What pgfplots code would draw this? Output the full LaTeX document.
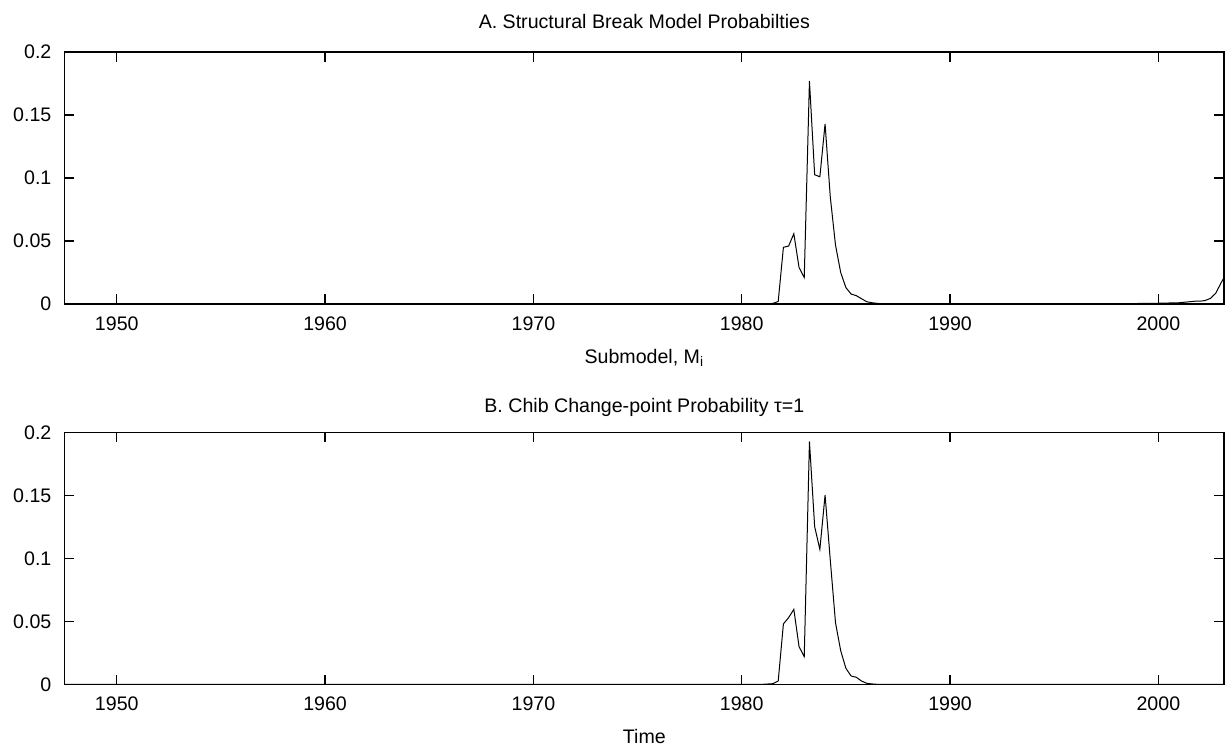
\documentclass[border=0pt]{standalone}
\usepackage{fontspec}
\setmainfont{Liberation Sans}
\usepackage{pgfplots}
\pgfplotsset{compat=1.18}
\newcommand{\ff}{\fontsize{9.8}{12}\selectfont}
\begin{document}
\ff
\begin{tikzpicture}
\useasboundingbox (0,0) rectangle (612.5pt,-375.5pt);
\pgfplotsset{
  panel/.style={
    scale only axis,
    width=579.65pt,
    anchor=north west,
    xmin=1947.5, xmax=2003.15,
    ymin=0, ymax=0.2,
    xtick={1950,1960,1970,1980,1990,2000},
    xticklabels={1950,1960,1970,1980,1990,2000},
    ytick={0,0.05,0.1,0.15,0.2},
    yticklabels={0,0.05,0.1,0.15,0.2},
    tick align=inside,
    major tick length=4.8pt,
    tick style={black, line width=0.7pt},
    axis line style={line width=0.7pt},
    ticklabel style={font=\ff},
    xticklabel shift=2.8pt,
    yticklabel shift=3.2pt,
    title style={font=\ff, at={(axis description cs:0.5,1)}, anchor=base},
    xlabel style={font=\ff, at={(axis description cs:0.5,0)}, anchor=base, yshift=-29.5pt},
    /pgf/number format/assume math mode=true,
  },
}
\begin{axis}[panel, height=126pt, at={(32.35pt,-26pt)},
  title={A. Structural Break Model Probabilties},
  title style={yshift=5.9pt},
  xlabel={Submodel, M\textsubscript{i}}]
\addplot[black, line width=0.5pt] coordinates {
(1947.5,0) (1981.0,0) (1981.25,0.0002) (1981.5,0.0005) (1981.75,0.002)
(1982.0,0.045) (1982.25,0.046) (1982.5,0.0558) (1982.75,0.029) (1983.0,0.021)
(1983.25,0.177) (1983.5,0.1026) (1983.75,0.101) (1984.0,0.143) (1984.25,0.085)
(1984.5,0.0468) (1984.75,0.025) (1985.0,0.013) (1985.25,0.0079) (1985.5,0.0066)
(1985.75,0.0042) (1986.0,0.0018) (1986.25,0.001) (1986.5,0.0005) (1986.75,0.0002)
(1987.0,0.0001) (1990.0,0.0001) (1995.0,0.0002) (1999.0,0.0004) (2000.0,0.0006)
(2000.5,0.0008) (2001.0,0.001) (2001.5,0.0018) (2001.75,0.0022) (2002.0,0.0022)
(2002.25,0.0028) (2002.5,0.0045) (2002.75,0.0085) (2003.0,0.0165) (2003.15,0.021)
};
\end{axis}
\begin{axis}[panel, height=125.8pt, at={(32.35pt,-216.35pt)},
  title={B. Chib Change-point Probability τ=1},
  title style={yshift=4.3pt},
  xlabel={Time}]
\addplot[black, line width=0.5pt] coordinates {
(1947.5,0) (1981.0,0) (1981.5,0.0005) (1981.75,0.0026)
(1982.0,0.048) (1982.25,0.053) (1982.5,0.0596) (1982.75,0.030) (1983.0,0.022)
(1983.25,0.193) (1983.5,0.1253) (1983.75,0.1073) (1984.0,0.1505) (1984.25,0.0988)
(1984.5,0.049) (1984.75,0.0267) (1985.0,0.0127) (1985.25,0.0066) (1985.5,0.0056)
(1985.75,0.0026) (1986.0,0.0008) (1986.25,0.0003) (1986.5,0) (2003.15,0)
};
\end{axis}
\end{tikzpicture}
\end{document}
